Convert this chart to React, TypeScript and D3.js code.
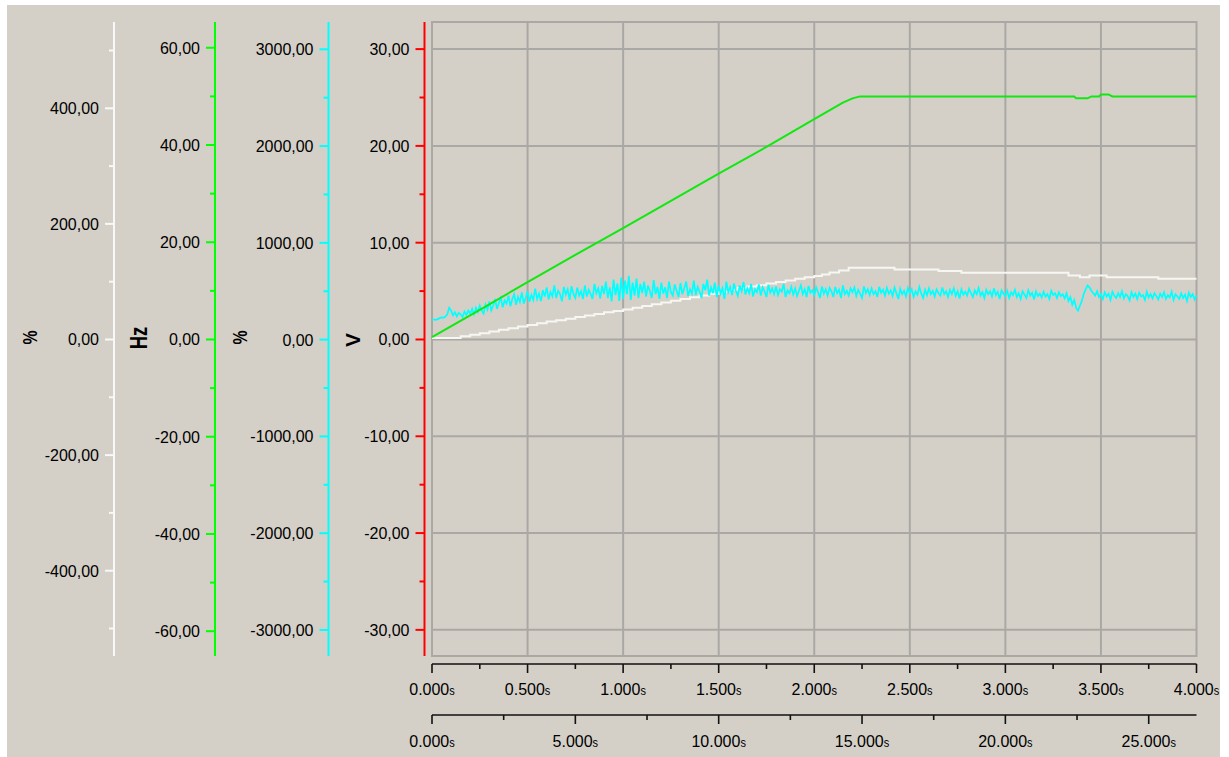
import React from "react";
import * as d3 from "d3";

// ---------- data ----------
const vMajor = [-30, -20, -10, 0, 10, 20, 30];
const vMinor = [-25, -15, -5, 5, 15, 25];
const hzMajor = [-60, -40, -20, 0, 20, 40, 60];
const hzMinor = [-50, -30, -10, 10, 30, 50];
const cyMajor = [-3000, -2000, -1000, 0, 1000, 2000, 3000];
const cyMinor = [-2500, -1500, -500, 500, 1500, 2500];
const whMajor = [-400, -200, 0, 200, 400];
const whMinor = [-500, -300, -100, 100, 300, 500];

const timeMajorA = [0, 0.5, 1, 1.5, 2, 2.5, 3, 3.5, 4];
const timeMinorA = [0.25, 0.75, 1.25, 1.75, 2.25, 2.75, 3.25, 3.75];
const timeMajorB = [0, 5, 10, 15, 20, 25];
const timeMinorB = [2.5, 7.5, 12.5, 17.5, 22.5];

// green: frequency (Hz)
const greenT = [0, 0.25, 0.5, 0.75, 1.0, 1.25, 1.5, 1.75, 2.0, 2.1, 2.15, 2.2, 2.24, 3.36, 3.37, 3.43, 3.45, 3.49, 3.5, 3.54, 3.56, 4.0];
const greenHz = [0.5, 6.1, 11.8, 17.4, 22.9, 28.5, 34.1, 39.6, 45.3, 47.6, 48.7, 49.6, 50.0, 50.0, 49.6, 49.6, 50.0, 50.0, 50.4, 50.4, 50.0, 50.0];

// white: percent (step)
const whiteT = [
  0, 0.15, 0.2, 0.25, 0.3, 0.35, 0.4, 0.45, 0.5, 0.55, 0.6, 0.65, 0.7, 0.75, 0.8, 0.85, 0.9, 0.95,
  1.0, 1.05, 1.1, 1.15, 1.2, 1.25, 1.3, 1.35, 1.4, 1.45, 1.5, 1.55, 1.6, 1.65, 1.7, 1.75, 1.8, 1.85,
  1.9, 1.95, 2.0, 2.04, 2.08, 2.13, 2.18, 2.42, 2.65, 2.77, 3.33, 3.39, 3.44, 3.53, 3.8, 4.0,
];
const whitePct = [
  2.5, 5.5, 8, 11, 14, 17, 19.5, 22.5, 25, 28, 31, 33.5, 36, 39, 41.5, 44, 47, 49.5,
  52, 55, 58, 61, 64, 67, 70, 73, 76, 79, 82.5, 86, 89, 91.5, 94, 97, 99.5, 102,
  105, 107.5, 110, 112.5, 116, 119.5, 124, 121.2, 118.3, 115.5, 110.8, 107.9, 110.8, 107.9, 105.1, 105.1,
];

// cyan: percent, sampled every 0.01 s
const cyanStep = 0.01;
const cyanPct = [
  205, 208, 204, 212, 222, 230, 226, 238, 262, 330,
  300, 250, 282, 240, 276, 262, 232, 290, 255, 300,
  270, 318, 262, 330, 285, 352, 300, 270, 362, 310,
  395, 300, 352, 420, 318, 380, 432, 335, 405, 372,
  455, 345, 418, 470, 360, 442, 390, 488, 372, 430,
  500, 392, 462, 410, 528, 420, 475, 398, 510, 445,
  540, 415, 492, 448, 560, 430, 505, 470, 395, 545,
  465, 520, 410, 552, 472, 430, 538, 455, 500, 420,
  560, 445, 515, 470, 420, 575, 480, 530, 425, 555,
  470, 600, 430, 540, 395, 620, 460, 580, 400, 640,
  420, 610, 470, 660, 410, 590, 455, 630, 430, 575,
  480, 600, 445, 560, 500, 430, 615, 470, 545, 420,
  590, 475, 540, 430, 600, 490, 455, 570, 505, 440,
  585, 470, 530, 600, 450, 520, 475, 610, 460, 545,
  495, 430, 575, 510, 620, 455, 540, 480, 590, 440,
  560, 475, 530, 420, 600, 490, 545, 460, 580, 505,
  450, 560, 500, 595, 465, 530, 480, 575, 445, 520,
  490, 570, 455, 540, 500, 440, 565, 485, 530, 470,
  550, 460, 520, 495, 575, 440, 510, 480, 545, 465,
  530, 450, 505, 560, 470, 520, 440, 555, 485, 510,
  460, 540, 490, 430, 550, 475, 520, 455, 535, 500,
  440, 545, 480, 515, 430, 560, 470, 505, 455, 530,
  490, 540, 450, 515, 475, 430, 550, 480, 520, 460,
  530, 470, 500, 440, 545, 485, 515, 455, 535, 475,
  510, 450, 540, 480, 420, 525, 470, 505, 445, 535,
  480, 520, 440, 500, 465, 545, 475, 430, 515, 460,
  530, 470, 505, 445, 520, 480, 455, 540, 470, 500,
  440, 515, 470, 530, 450, 500, 425, 520, 465, 495,
  455, 525, 480, 440, 510, 470, 535, 455, 490, 430,
  515, 470, 500, 445, 530, 460, 495, 420, 510, 475,
  450, 505, 430, 490, 460, 515, 440, 480, 420, 500,
  465, 430, 510, 455, 485, 415, 500, 450, 475, 435,
  495, 445, 470, 420, 505, 460, 480, 430, 490, 450,
  470, 425, 480, 400, 440, 360, 410, 330, 300, 350,
  400, 470, 520, 560, 540, 505, 480, 455, 500, 440,
  470, 420, 490, 445, 475, 410, 495, 455, 430, 480,
  440, 500, 425, 470, 450, 405, 490, 440, 475, 420,
  485, 445, 460, 410, 495, 435, 470, 425, 480, 450,
  415, 475, 440, 490, 420, 460, 435, 495, 410, 470,
  445, 420, 480, 430, 465, 400, 485, 440, 470, 415,
  455,
];

// ---------- layout ----------
const W = 1229;
const H = 757;
const TOP = 22;
const BOTTOM = 656;
const LEFT = 432;
const RIGHT = 1196.5;
const BG = "#d4d0c8";
const GRID = "#aaa8a4";
const FONT = "'Liberation Sans', Arial, sans-serif";

const x = d3.scaleLinear().domain([0, 4]).range([LEFT, RIGHT]);
const x2 = d3.scaleLinear().domain([0, 26.667]).range([LEFT, RIGHT]);
const yV = d3.scaleLinear().domain([-32.7, 32.8]).range([BOTTOM, TOP]);
const yHz = d3.scaleLinear().domain([-65.1, 65.3]).range([BOTTOM, TOP]);
const yCy = d3.scaleLinear().domain([-3269, 3282]).range([BOTTOM, TOP]);
const yWh = d3.scaleLinear().domain([-547.6, 549.3]).range([BOTTOM, TOP]);

const fmtY = (v: number) => d3.format(".2f")(v).replace(".", ",").replace("−", "-");
const fmtT = (v: number) => d3.format(".3f")(v);

function LeftAxis(props: {
  ax: number;
  scale: d3.ScaleLinear<number, number>;
  major: number[];
  minor: number[];
  color: string;
}) {
  const { ax, scale, major, minor, color } = props;
  return (
    <g>
      <line x1={ax} x2={ax} y1={TOP} y2={BOTTOM} stroke={color} strokeWidth={2} />
      {major.map((v) => (
        <line key={"M" + v} x1={ax - 9} x2={ax} y1={scale(v)} y2={scale(v)} stroke={color} strokeWidth={2} />
      ))}
      {minor.map((v) => (
        <line key={"m" + v} x1={ax - 5} x2={ax} y1={scale(v)} y2={scale(v)} stroke={color} strokeWidth={2} />
      ))}
      {major.map((v) => (
        <text
          key={"t" + v}
          transform={`translate(${ax - 15},${scale(v) + 6}) scale(1,1.08)`}
          textAnchor="end"
          fontSize={16}
          fontFamily={FONT}
          fill="#000"
        >
          {fmtY(v)}
        </text>
      ))}
    </g>
  );
}

function BottomAxis(props: {
  ay: number;
  scale: d3.ScaleLinear<number, number>;
  major: number[];
  minor: number[];
  labelY: number;
}) {
  const { ay, scale, major, minor, labelY } = props;
  return (
    <g>
      <line x1={LEFT} x2={RIGHT} y1={ay} y2={ay} stroke="#111" strokeWidth={1.6} />
      {major.map((v) => (
        <line key={"M" + v} x1={scale(v)} x2={scale(v)} y1={ay} y2={ay + 9} stroke="#111" strokeWidth={1.6} />
      ))}
      {minor.map((v) => (
        <line key={"m" + v} x1={scale(v)} x2={scale(v)} y1={ay} y2={ay + 5} stroke="#111" strokeWidth={1.6} />
      ))}
      {major.map((v) => (
        <text
          key={"t" + v}
          transform={`translate(${scale(v)},${labelY}) scale(1,1.08)`}
          textAnchor="middle"
          fontSize={16}
          fontFamily={FONT}
          fill="#000"
        >
          {fmtT(v)}
          <tspan fontSize={11}>s</tspan>
        </text>
      ))}
    </g>
  );
}

function UnitLabel(props: { bx: number; cy: number; text: string; size: number; stretch: number }) {
  const { bx, cy, text, size, stretch } = props;
  return (
    <text
      transform={`translate(${bx},${cy}) rotate(-90) scale(1,${stretch})`}
      textAnchor="middle"
      fontSize={size}
      fontWeight="bold"
      fontFamily={FONT}
      fill="#000"
    >
      {text}
    </text>
  );
}

export default function App() {
  const greenPath = d3
    .line<number>()
    .x((_, i) => x(greenT[i]))
    .y((d) => yHz(d))(greenHz);

  const whitePath = d3
    .line<number>()
    .curve(d3.curveStepAfter)
    .x((_, i) => x(whiteT[i]))
    .y((d) => yWh(d))(whitePct);

  const cyanPath = d3
    .line<number>()
    .x((_, i) => x(i * cyanStep))
    .y((d) => yCy(d))(cyanPct);

  const gridX = timeMajorA.filter((t) => t > 0 && t < 4);

  return (
    <svg
      width={W}
      height={H}
      style={{ position: "absolute", left: 0, top: 0, display: "block" }}
      xmlns="http://www.w3.org/2000/svg"
    >
      <rect x={0} y={0} width={W} height={H} fill="#ffffff" />
      <rect x={7} y={5} width={1213} height={752} fill={BG} />

      {/* grid */}
      {gridX.map((t) => (
        <line key={"gx" + t} x1={x(t)} x2={x(t)} y1={TOP} y2={BOTTOM} stroke={GRID} strokeWidth={2} />
      ))}
      {vMajor.map((v) => (
        <line key={"gy" + v} x1={LEFT} x2={RIGHT} y1={yV(v)} y2={yV(v)} stroke={GRID} strokeWidth={2} />
      ))}
      <rect x={LEFT} y={TOP} width={RIGHT - LEFT} height={BOTTOM - TOP} fill="none" stroke={GRID} strokeWidth={2} />

      {/* series */}
      <path d={whitePath || ""} fill="none" stroke="#f6f6f2" strokeWidth={2} />
      <path d={cyanPath || ""} fill="none" stroke="#00ffff" strokeWidth={1.7} />
      <path d={greenPath || ""} fill="none" stroke="#10e810" strokeWidth={2} />

      {/* left axes */}
      <LeftAxis ax={114} scale={yWh} major={whMajor} minor={whMinor} color="#f8f8f8" />
      <LeftAxis ax={215} scale={yHz} major={hzMajor} minor={hzMinor} color="#00ff00" />
      <LeftAxis ax={328.5} scale={yCy} major={cyMajor} minor={cyMinor} color="#00ffff" />
      <LeftAxis ax={424.5} scale={yV} major={vMajor} minor={vMinor} color="#ff0000" />

      <UnitLabel bx={36.5} cy={337.5} text="%" size={16} stretch={1.3} />
      <UnitLabel bx={146.8} cy={338} text="Hz" size={18.5} stretch={1.25} />
      <UnitLabel bx={247} cy={337.5} text="%" size={16} stretch={1.3} />
      <UnitLabel bx={360} cy={340} text="V" size={21} stretch={1.0} />

      {/* bottom axes */}
      <BottomAxis ay={664} scale={x} major={timeMajorA} minor={timeMinorA} labelY={695} />
      <BottomAxis ay={715} scale={x2} major={timeMajorB} minor={timeMinorB} labelY={746.5} />
    </svg>
  );
}
